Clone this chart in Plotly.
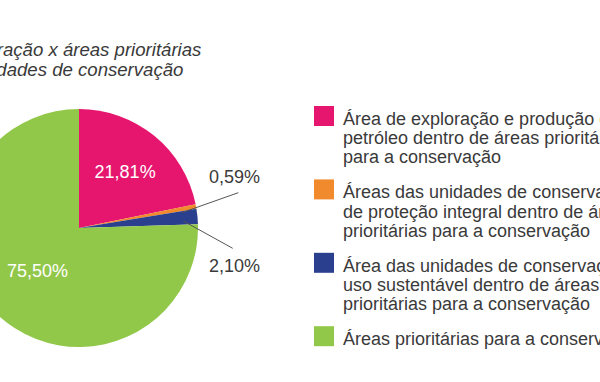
import plotly.graph_objects as go

# ---------------- data ----------------
title_lines = ["Área de exploração x áreas prioritárias", "e unidades de conservação"]
labels = [
    "Área de exploração e produção de<br>petróleo dentro de áreas prioritárias<br>para a conservação",
    "Áreas das unidades de conservação<br>de proteção integral dentro de áreas<br>prioritárias para a conservação",
    "Área das unidades de conservação de<br>uso sustentável dentro de áreas<br>prioritárias para a conservação",
    "Áreas prioritárias para a conservação",
]
values = [21.81, 0.59, 2.10, 75.50]
colors = ["#E6166F", "#F08A2C", "#2B3F8F", "#92C84A"]
text_pos = ["inside", "none", "none", "inside"]

# ---------------- geometry helpers (visible pixel -> paper) ----------------
W, H, L = 660, 382, 60
FONT = "Liberation Sans"
DARK = "#3a3a3a"


def px(x):
    return (x + L) / W


def py(y):
    return 1 - y / H


def fmt(v):
    return f"{v:.2f}".replace(".", ",") + "%"


cx, cy, r = 79, 228, 119

fig = go.Figure(
    go.Pie(
        labels=[l.replace("<br>", " ") for l in labels],
        values=values,
        marker=dict(colors=colors, line=dict(width=0)),
        sort=False,
        direction="clockwise",
        rotation=0,
        textposition=text_pos,
        texttemplate="%{value:.2f}%",
        insidetextorientation="horizontal",
        insidetextfont=dict(family=FONT, size=18, color="white"),
        domain=dict(x=[px(cx - r), px(cx + r)], y=[py(cy + r), py(cy - r)]),
        showlegend=False,
        hoverinfo="label+value",
    )
)

annotations = []
shapes = []

# title (two lines)
title_ends = [(203, 55.5), (185, 75.5)]
for txt, (xe, yb) in zip(title_lines, title_ends):
    annotations.append(dict(
        text=txt, x=px(xe), y=py(yb - 6.4), xref="paper", yref="paper",
        xanchor="right", yanchor="middle", showarrow=False,
        font=dict(family=FONT, size=18.6, color=DARK, style="italic"),
    ))

# outside labels for small slices with leader lines
small = [
    (1, (234, 176.5), ((181.7, 212.7), (238.3, 192.7))),
    (2, (234, 265.5), ((183.3, 221.0), (232.7, 248.3))),
]
for idx, (tx, ty), ((x0, y0), (x1, y1)) in small:
    annotations.append(dict(
        text=fmt(values[idx]), x=px(tx), y=py(ty), xref="paper", yref="paper",
        xanchor="center", yanchor="middle", showarrow=False,
        font=dict(family=FONT, size=18, color=DARK),
    ))
    shapes.append(dict(type="line", xref="paper", yref="paper",
                       x0=px(x0), y0=py(y0), x1=px(x1), y1=py(y1),
                       line=dict(color="#555555", width=1)))

# custom legend
base, line_h, gap = 125.0, 19.3, 15.5
lines_before = 0
for i, (lab, col) in enumerate(zip(labels, colors)):
    parts = lab.split("<br>")
    b0 = base + lines_before * line_h + i * gap
    shapes.append(dict(type="rect", xref="paper", yref="paper",
                       x0=px(314), x1=px(334), y0=py(b0 + 1), y1=py(b0 - 19),
                       fillcolor=col, line=dict(width=0)))
    for j, p in enumerate(parts):
        b = b0 + j * line_h
        annotations.append(dict(
            text=p, x=px(340.5), y=py(b - 6.2), xref="paper", yref="paper",
            xanchor="left", yanchor="middle", showarrow=False,
            font=dict(family=FONT, size=18, color=DARK),
        ))
    lines_before += len(parts)

fig.update_layout(
    width=W, height=H,
    margin=dict(l=0, r=0, t=0, b=0),
    paper_bgcolor="white", plot_bgcolor="white",
    separators=",.",
    annotations=annotations, shapes=shapes,
    font=dict(family=FONT),
)

post = (
    "document.body.style.margin='0';"
    "document.body.style.overflow='hidden';"
    "var d=document.getElementById('{plot_id}');"
    "d.style.marginLeft='-" + str(L) + "px';"
)
fig.write_html("out.html", post_script=post, config={"displayModeBar": False})
